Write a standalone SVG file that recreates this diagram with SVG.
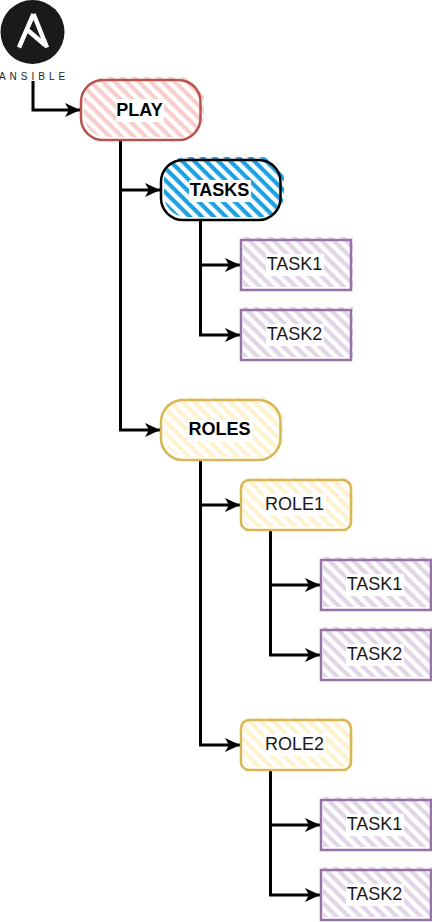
<svg xmlns="http://www.w3.org/2000/svg" width="432" height="922" viewBox="0 0 432 922">
<style>
.lbl{font-family:"Liberation Sans",Arial,sans-serif;font-size:18px;text-anchor:middle;fill:#1a1a1a}
.b{font-weight:bold;fill:#000}
.w{fill:#fff}
.n{fill:none;stroke-width:2.5}
.c{fill:none;stroke:#000;stroke-width:3;marker-end:url(#a)}
</style>
<defs>
<marker id="a" markerUnits="userSpaceOnUse" markerWidth="16" markerHeight="16" refX="15" refY="8" orient="auto" overflow="visible"><path d="M0 1 L15 8 L0 15 L4 8 Z" fill="#000"/></marker>
<pattern id="hr" width="8.5" height="8.5" patternUnits="userSpaceOnUse" patternTransform="rotate(45)"><rect width="8.5" height="4.2" fill="#f8cecc"/></pattern>
<pattern id="hb" width="8.5" height="8.5" patternUnits="userSpaceOnUse" patternTransform="rotate(45)"><rect width="8.5" height="4.2" fill="#1ba1e2"/></pattern>
<pattern id="hp" width="8.5" height="8.5" patternUnits="userSpaceOnUse" patternTransform="rotate(45)"><rect width="8.5" height="4.2" fill="#e1d5e7"/></pattern>
<pattern id="hy" width="8.5" height="8.5" patternUnits="userSpaceOnUse" patternTransform="rotate(45)"><rect width="8.5" height="4.2" fill="#fff2cc"/></pattern>
</defs>
<g id="connectors">
<path class="c" d="M33 81 V110 H80"/>
<path class="c" d="M120.5 140 V190 H160"/>
<path class="c" d="M120.5 140 V430 H160"/>
<path class="c" d="M200.5 220 V265 H240"/>
<path class="c" d="M200.5 220 V335 H240"/>
<path class="c" d="M200.5 460 V505 H240"/>
<path class="c" d="M200.5 460 V745 H240"/>
<path class="c" d="M270.5 530 V585 H320"/>
<path class="c" d="M270.5 530 V655 H320"/>
<path class="c" d="M270.5 770 V825 H320"/>
<path class="c" d="M270.5 770 V895 H320"/>
</g>
<g id="ansible">
<circle cx="32.5" cy="32" r="32" fill="#1a1a1a"/>
<path d="M33.5 14 L19 47.5 M33.5 14 L47 47.5 M27.5 30 L45 45" fill="none" stroke="#fff" stroke-width="4.5"/>
<text x="34" y="80" font-family="Liberation Sans,Arial,sans-serif" font-size="10" letter-spacing="4" text-anchor="middle" fill="#222">ANSIBLE</text>
</g>
<g id="play">
<rect x="84" y="77" width="120" height="60" rx="22" fill="url(#hr)"/>
<rect x="81" y="80" width="119.5" height="60" rx="22" class="n" stroke="#b85450"/>
<rect class="w" x="116" y="99" width="48" height="23"/>
<text class="lbl b" x="139.5" y="116">PLAY</text>
</g>
<g id="tasks">
<rect x="164" y="157" width="120" height="60" rx="22" fill="url(#hb)"/>
<rect x="161" y="160" width="119.5" height="60" rx="22" class="n" stroke="#000"/>
<rect class="w" x="189" y="180" width="62" height="22"/>
<text class="lbl b" x="219.5" y="196">TASKS</text>
</g>
<g id="task1a">
<rect x="243" y="237" width="110" height="50" fill="url(#hp)"/>
<rect x="241" y="240" width="110" height="50" class="n" stroke="#9673a6"/>
<rect class="w" x="266" y="254" width="58" height="22"/>
<text class="lbl" x="294.5" y="270">TASK1</text>
</g>
<g id="task2a">
<rect x="243" y="307" width="110" height="50" fill="url(#hp)"/>
<rect x="241" y="310" width="110" height="50" class="n" stroke="#9673a6"/>
<rect class="w" x="266" y="324" width="58" height="22"/>
<text class="lbl" x="294.5" y="340">TASK2</text>
</g>
<g id="roles">
<rect x="164" y="397" width="120" height="60" rx="22" fill="url(#hy)"/>
<rect x="161" y="400" width="119.5" height="60" rx="22" class="n" stroke="#d6b656"/>
<rect class="w" x="187" y="420" width="66" height="22"/>
<text class="lbl b" x="219.5" y="435">ROLES</text>
</g>
<g id="role1">
<rect x="243" y="477" width="110" height="50" rx="8" fill="url(#hy)"/>
<rect x="241" y="480" width="110" height="50" rx="8" class="n" stroke="#d6b656"/>
<rect class="w" x="264" y="494" width="62" height="22"/>
<text class="lbl" x="294.5" y="510">ROLE1</text>
</g>
<g id="task1b">
<rect x="323" y="557" width="110" height="50" fill="url(#hp)"/>
<rect x="321" y="560" width="110" height="50" class="n" stroke="#9673a6"/>
<rect class="w" x="346" y="574" width="58" height="22"/>
<text class="lbl" x="374.5" y="590">TASK1</text>
</g>
<g id="task2b">
<rect x="323" y="627" width="110" height="50" fill="url(#hp)"/>
<rect x="321" y="630" width="110" height="50" class="n" stroke="#9673a6"/>
<rect class="w" x="346" y="644" width="58" height="22"/>
<text class="lbl" x="374.5" y="660">TASK2</text>
</g>
<g id="role2">
<rect x="243" y="717" width="110" height="50" rx="8" fill="url(#hy)"/>
<rect x="241" y="720" width="110" height="50" rx="8" class="n" stroke="#d6b656"/>
<rect class="w" x="264" y="734" width="62" height="22"/>
<text class="lbl" x="294.5" y="750">ROLE2</text>
</g>
<g id="task1c">
<rect x="323" y="797" width="110" height="50" fill="url(#hp)"/>
<rect x="321" y="800" width="110" height="50" class="n" stroke="#9673a6"/>
<rect class="w" x="346" y="814" width="58" height="22"/>
<text class="lbl" x="374.5" y="830">TASK1</text>
</g>
<g id="task2c">
<rect x="323" y="867" width="110" height="50" fill="url(#hp)"/>
<rect x="321" y="870" width="110" height="50" class="n" stroke="#9673a6"/>
<rect class="w" x="346" y="884" width="58" height="22"/>
<text class="lbl" x="374.5" y="900">TASK2</text>
</g>
</svg>
